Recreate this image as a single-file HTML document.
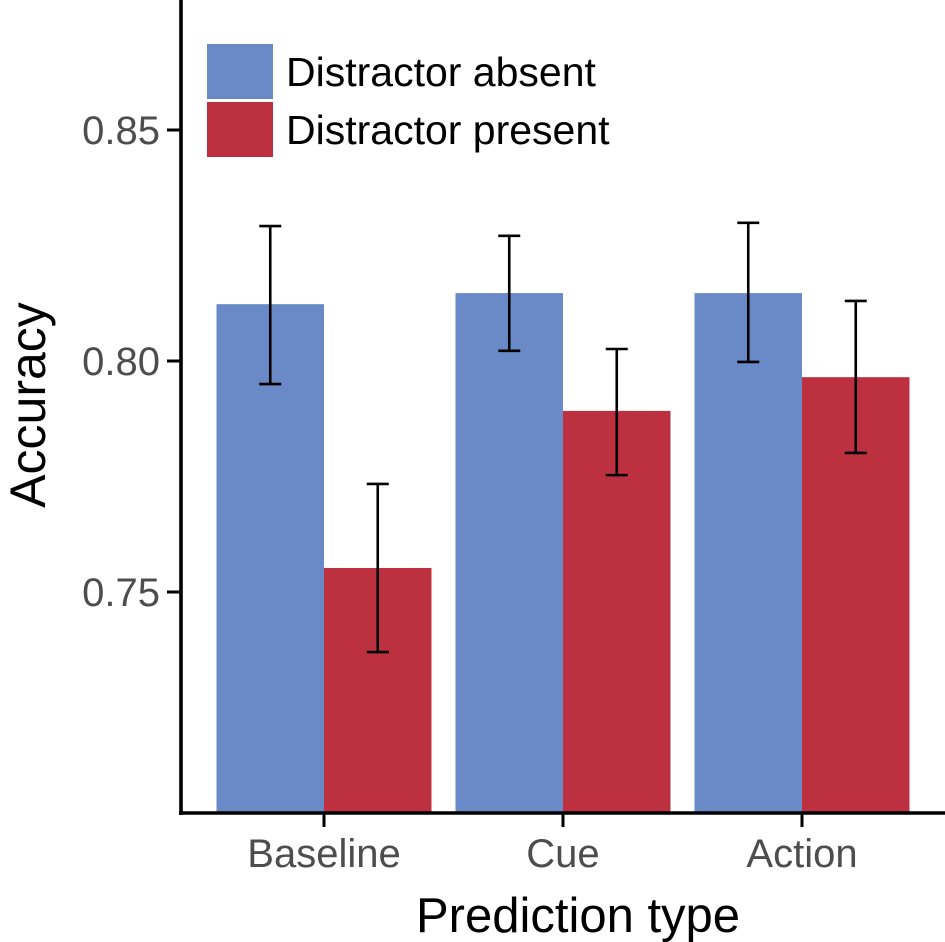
<!DOCTYPE html>
<html><head><meta charset="utf-8"><style>
html,body{margin:0;padding:0;background:#fff;}
svg{display:block;font-family:"Liberation Sans",Arial,sans-serif;}
</style></head><body>
<svg id="chart" width="945" height="942"></svg>
<script>
const categories=["Baseline","Cue","Action"];
const seriesNames=["Distractor absent","Distractor present"];
const absentVals=[0.8123,0.8147,0.8147];
const presentVals=[0.7552,0.7892,0.7965];
const absentHi=[0.8292,0.8271,0.8299];
const absentLo=[0.7950,0.8022,0.7998];
const presentHi=[0.7734,0.8026,0.8130];
const presentLo=[0.7370,0.7753,0.7801];
const yTicks=[0.75,0.80,0.85];
const yTickLabels=["0.75","0.80","0.85"];
const colors=["#6a8ac7","#bd3040"];

const NS="http://www.w3.org/2000/svg";
const svg=document.getElementById("chart");
function y(v){return 592-(v-0.75)*4620;}
function xc(i){return 324+i*239;}
const bw=107.5,y0=813;
function mk(t,a,p){const e=document.createElementNS(NS,t);for(const k in a)e.setAttribute(k,a[k]);(p||svg).appendChild(e);return e;}

const vals=[absentVals,presentVals],his=[absentHi,presentHi],los=[absentLo,presentLo];
categories.forEach((c,i)=>{
  for(let s=0;s<2;s++){
    const x=s===0?xc(i)-bw:xc(i);
    const r=mk("rect",{x:x,y:y(vals[s][i]),width:bw,height:y0-y(vals[s][i]),fill:colors[s]});
    
    
  }
});
categories.forEach((c,i)=>{
  for(let s=0;s<2;s++){
    const cx=s===0?xc(i)-bw/2:xc(i)+bw/2;
    const g=mk("g",{stroke:"#000","stroke-width":2.6,fill:"none"});
    
    
    mk("line",{x1:cx,x2:cx,y1:y(his[s][i]),y2:y(los[s][i])},g);
    mk("line",{x1:cx-11,x2:cx+11,y1:y(his[s][i]),y2:y(his[s][i])},g);
    mk("line",{x1:cx-11,x2:cx+11,y1:y(los[s][i]),y2:y(los[s][i])},g);
  }
});
const ya=mk("line",{x1:181,x2:181,y1:0,y2:815,stroke:"#000","stroke-width":3.6});

const xa=mk("line",{x1:179,x2:945,y1:813,y2:813,stroke:"#000","stroke-width":3.6});

yTicks.forEach((v,i)=>{
  mk("line",{x1:167,x2:181,y1:y(v),y2:y(v),stroke:"#000","stroke-width":3});
  const t=mk("text",{x:160,y:y(v)+14,"text-anchor":"end","font-size":40,fill:"#4d4d4d"});
  t.textContent=yTickLabels[i];
  
});
categories.forEach((c,i)=>{
  mk("line",{x1:xc(i),x2:xc(i),y1:813,y2:827,stroke:"#000","stroke-width":3});
  const t=mk("text",{x:xc(i),y:867,"text-anchor":"middle","font-size":40,fill:"#4d4d4d"});
  t.textContent=c;
  
});
const xt=mk("text",{x:578,y:932,"text-anchor":"middle","font-size":49,fill:"#000"});
xt.textContent="Prediction type";
const yt=mk("text",{x:0,y:0,"text-anchor":"middle","font-size":50,fill:"#000",transform:"translate(45,405) rotate(-90)"});
yt.textContent="Accuracy";
seriesNames.forEach((n,s)=>{
  const r=mk("rect",{x:207,y:44+s*58,width:66,height:55,fill:colors[s]});
  
  const t=mk("text",{x:286,y:86+s*58,"font-size":41,fill:"#000"});
  t.textContent=n;
});
</script>
</body></html>
